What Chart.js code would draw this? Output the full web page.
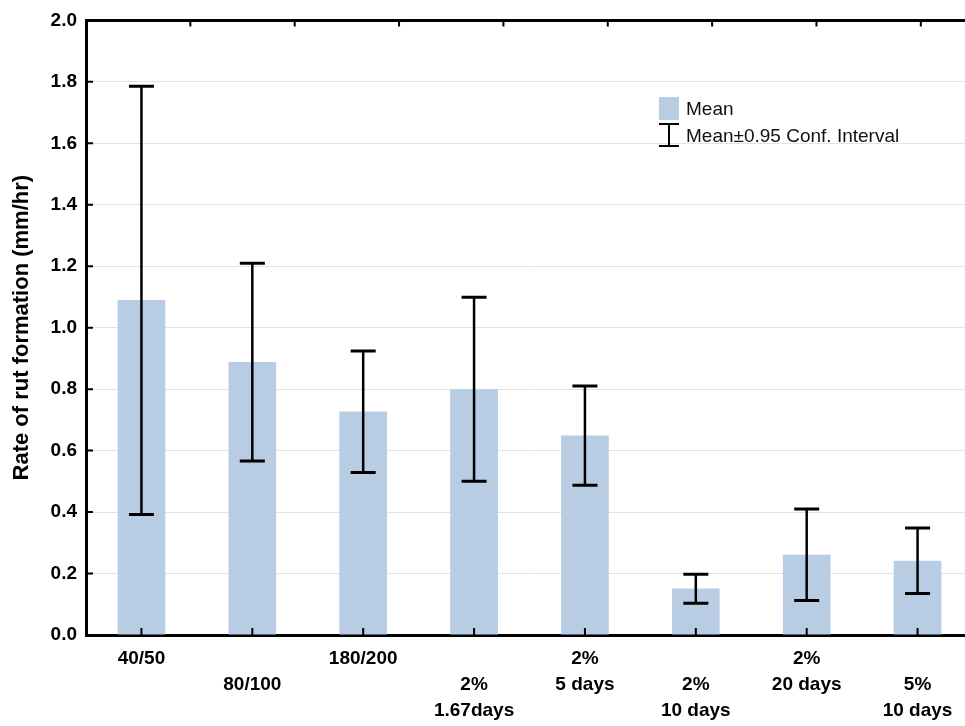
<!DOCTYPE html>
<html>
<head>
<meta charset="utf-8">
<title>Rate of rut formation</title>
<script src="https://cdn.jsdelivr.net/npm/chart.js@4.4.0/dist/chart.umd.min.js"></script>
<style>
html, body { margin: 0; padding: 0; background: #fff; overflow: hidden; }
#wrap { position: relative; width: 975px; height: 726px; }
</style>
</head>
<body>
<div id="wrap"><canvas id="graph"></canvas></div>
<script>
// values
var categories = [["40/50"], ["80/100"], ["180/200"], ["2%", "1.67days"], ["2%", "5 days"], ["2%", "10 days"], ["2%", "20 days"], ["5%", "10 days"]];
var means   = [1.090, 0.888, 0.727, 0.800, 0.649, 0.151, 0.261, 0.242];
var ciLower = [0.392, 0.566, 0.529, 0.500, 0.487, 0.103, 0.112, 0.135];
var ciUpper = [1.786, 1.210, 0.924, 1.099, 0.810, 0.198, 0.410, 0.348];

var barColor = "#b8cce4";
var fontFamily = "'Liberation Sans', Arial, sans-serif";

// error bars on top of each bar
var errorBars = {
	id: 'errorBars',
	afterDatasetsDraw: function(chart) {
		var ctx = chart.ctx;
		var yScale = chart.scales.y;
		var meta = chart.getDatasetMeta(0);
		ctx.save();
		ctx.strokeStyle = "#000";
		meta.data.forEach(function(bar, i) {
			var x = bar.x;
			var yU = yScale.getPixelForValue(ciUpper[i]);
			var yL = yScale.getPixelForValue(ciLower[i]);
			ctx.lineWidth = 2.5;
			ctx.beginPath();
			ctx.moveTo(x, yU);
			ctx.lineTo(x, yL);
			ctx.stroke();
			ctx.lineWidth = 3;
			ctx.beginPath();
			ctx.moveTo(x - 12.5, yU);
			ctx.lineTo(x + 12.5, yU);
			ctx.moveTo(x - 12.5, yL);
			ctx.lineTo(x + 12.5, yL);
			ctx.stroke();
		});
		ctx.restore();
	}
};

// tick marks pointing into the plot
var innerTicks = {
	id: 'innerTicks',
	afterDraw: function(chart) {
		var ctx = chart.ctx;
		var area = chart.chartArea;
		var x = chart.scales.x, y = chart.scales.y, x2 = chart.scales.x2;
		ctx.save();
		ctx.strokeStyle = "#000";
		ctx.lineWidth = 2;
		ctx.beginPath();
		y.ticks.forEach(function(t) {
			if (t.value <= 0 || t.value >= 1.999) return;
			var py = y.getPixelForValue(t.value);
			ctx.moveTo(area.left, py);
			ctx.lineTo(area.left + 7, py);
		});
		x.ticks.forEach(function(t, i) {
			var px = x.getPixelForTick(i);
			ctx.moveTo(px, area.bottom);
			ctx.lineTo(px, area.bottom - 7);
		});
		x2.ticks.forEach(function(t) {
			if (t.value <= 0 || t.value % 1 !== 0) return;
			var px = x2.getPixelForValue(t.value);
			ctx.moveTo(px, area.top);
			ctx.lineTo(px, area.top + 6);
		});
		ctx.stroke();
		ctx.restore();
	}
};

var legendBox = {
	id: 'legendBox',
	afterDraw: function(chart) {
		var ctx = chart.ctx;
		ctx.save();
		ctx.fillStyle = barColor;
		ctx.fillRect(659, 97, 20, 23);
		ctx.strokeStyle = "#000";
		ctx.lineWidth = 2;
		ctx.beginPath();
		ctx.moveTo(669, 124); ctx.lineTo(669, 146);
		ctx.moveTo(659, 124); ctx.lineTo(679, 124);
		ctx.moveTo(659, 146); ctx.lineTo(679, 146);
		ctx.stroke();
		ctx.fillStyle = "#111";
		ctx.font = "19px " + fontFamily;
		ctx.textBaseline = "middle";
		ctx.fillText("Mean", 686, 110);
		ctx.fillText("Mean\u00b10.95 Conf. Interval", 686, 137);
		ctx.restore();
	}
};

var ctx = document.getElementById("graph").getContext("2d");
var myChart = new Chart(ctx, {
	type: 'bar',
	data: {
		labels: categories,
		datasets: [
			{
				label: "Mean",
				data: means,
				backgroundColor: barColor,
				borderWidth: 0,
				barPercentage: 0.43,
				categoryPercentage: 1.0
			}
		]
	},
	options: {
		responsive: true,
		maintainAspectRatio: false,
		animation: false,
		layout: { padding: { top: 18, right: 2, left: 0, bottom: 0 } },
		plugins: {
			legend: { display: false },
			tooltip: { enabled: false }
		},
		scales: {
			x: {
				type: 'category',
				position: 'bottom',
				z: 1,
				afterFit: function(scale) { scale.height = 91; },
				grid: { drawOnChartArea: false, drawTicks: false },
				border: { display: true, color: "#000", width: 3 },
				ticks: {
					padding: 11,
					color: "#000",
					maxRotation: 0,
					autoSkip: false,
					font: { family: fontFamily, size: 19, weight: 'bold', lineHeight: 1.37 },
					callback: function(value, index) {
						var lab = categories[index];
						return index % 2 ? [""].concat(lab) : lab;
					}
				}
			},
			x2: {
				type: 'linear',
				position: 'top',
				offset: false,
				min: 0,
				max: 8.5,
				afterFit: function(scale) { scale.height = 0; },
				grid: { drawOnChartArea: false, drawTicks: false, offset: false },
				border: { display: true, color: "#000", width: 3 },
				ticks: { display: false, stepSize: 1 }
			},
			y: {
				min: 0,
				max: 2.0,
				afterFit: function(scale) { scale.width = 86; },
				grid: {
					drawTicks: false,
					lineWidth: 1,
					color: function(c) {
						return (c.tick.value <= 0 || c.tick.value >= 1.999) ? 'rgba(0,0,0,0)' : '#e2e2e2';
					}
				},
				border: { display: true, color: "#000", width: 3 },
				ticks: {
					stepSize: 0.2,
					padding: 9,
					color: "#000",
					font: { family: fontFamily, size: 19, weight: 'bold' },
					callback: function(value) { return value.toFixed(1); }
				},
				title: {
					display: true,
					text: "Rate of rut formation (mm/hr)",
					color: "#000",
					padding: { top: 9, bottom: 0 },
					font: { family: fontFamily, size: 22, weight: 'bold' }
				}
			}
		}
	},
	plugins: [errorBars, innerTicks, legendBox]
});
</script>
</body>
</html>
